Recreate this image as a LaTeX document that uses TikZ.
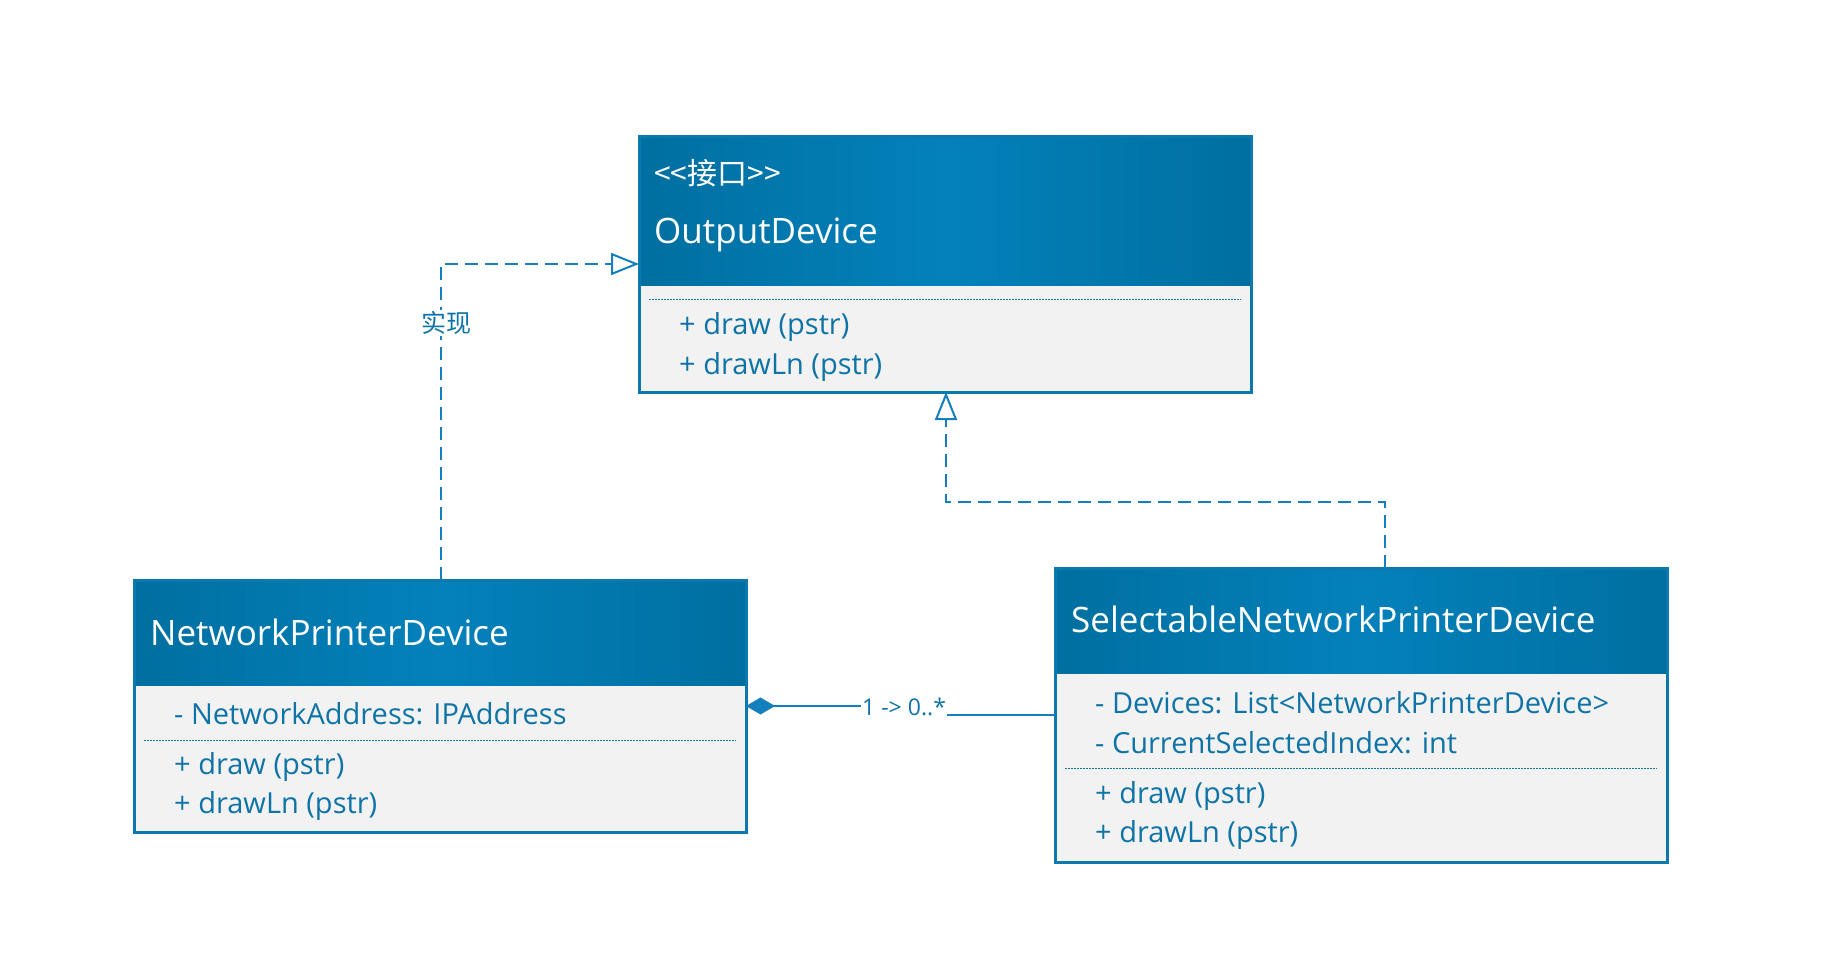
\documentclass[tikz,border=0pt]{standalone}
\usepackage{fontspec}
\setmainfont{Open Sans}
\newfontfamily\cjk{Noto Sans CJK SC}
\usetikzlibrary{arrows.meta}
\definecolor{hdark}{HTML}{006FA0}
\definecolor{hlight}{HTML}{0381BB}
\definecolor{bodyfill}{HTML}{F2F2F2}
\definecolor{bordercol}{HTML}{0B78AE}
\definecolor{txtblue}{HTML}{0E73A6}
\definecolor{linkcol}{HTML}{137FBD}
\tikzset{
  boxnode/.style={rectangle, inner sep=0pt, outer sep=0pt, fill=bodyfill, anchor=north west},
  boxborder/.style={draw=bordercol, line width=3pt},
  titletxt/.style={anchor=base west, inner sep=0pt, text=white, font=\fontsize{35}{40}\selectfont},
  stereotxt/.style={anchor=west, inner sep=0pt, text=white, font=\cjk\fontsize{30}{34}\selectfont},
  membertxt/.style={anchor=base west, inner sep=0pt, text=txtblue, font=\fontsize{29}{34}\selectfont},
  sepline/.style={draw=txtblue, line width=1pt, dash pattern=on 2pt off 1pt},
  realize/.style={draw=linkcol, line width=2pt, dash pattern=on 13pt off 7pt, -{Triangle[open, length=28pt, width=22pt, line width=2pt]}},
  compose/.style={draw=linkcol, line width=2pt, {Diamond[length=29pt, width=17pt, fill=linkcol]}-},
  linklabel/.style={inner sep=1pt, fill=white, text=txtblue},
}
\begin{document}
\begin{tikzpicture}[x=1pt, y=-1pt]
\useasboundingbox (0,0) rectangle (1821,971);
\fill[white] (0,0) rectangle (1821,971);

% ---------- OutputDevice ----------
\node[boxnode, minimum width=612pt, minimum height=255pt] (od) at (639,137) {};
\coordinate (odh) at (639,285);
\shade[left color=hdark, right color=hdark, middle color=hlight] (od.north west) rectangle (odh -| od.east);
\draw[boxborder] (od.north west) rectangle (od.south east);
\node[stereotxt] (odst) at (654,173) {<<接口>>};
\node[titletxt] (odt) at (654,243) {OutputDevice};
\coordinate (ods1) at (649,299);
\draw[sepline] (ods1) -- (ods1 -| 1241,0);
\node[membertxt] (odm1) at (679,334) {+ draw (pstr)};
\node[membertxt] (odm2) at (679,374) {+ drawLn (pstr)};

% ---------- NetworkPrinterDevice ----------
\node[boxnode, minimum width=612pt, minimum height=252pt] (npd) at (134,580) {};
\coordinate (npdh) at (134,685);
\shade[left color=hdark, right color=hdark, middle color=hlight] (npd.north west) rectangle (npdh -| npd.east);
\draw[boxborder] (npd.north west) rectangle (npd.south east);
\node[titletxt] (npdt) at (150,645) {NetworkPrinterDevice};
\node[membertxt] (npda1) at (174,724) {- NetworkAddress: IPAddress};
\coordinate (npds1) at (144,740);
\draw[sepline] (npds1) -- (npds1 -| 736,0);
\node[membertxt] (npdm1) at (174,774) {+ draw (pstr)};
\node[membertxt] (npdm2) at (174,813) {+ drawLn (pstr)};

% ---------- SelectableNetworkPrinterDevice ----------
\node[boxnode, minimum width=612pt, minimum height=294pt] (snpd) at (1055,568) {};
\coordinate (snpdh) at (1055,673);
\shade[left color=hdark, right color=hdark, middle color=hlight] (snpd.north west) rectangle (snpdh -| snpd.east);
\draw[boxborder] (snpd.north west) rectangle (snpd.south east);
\node[titletxt] (snpdt) at (1071,632) {SelectableNetworkPrinterDevice};
\node[membertxt] (snpda1) at (1095,713) {- Devices: List<NetworkPrinterDevice>};
\node[membertxt] (snpda2) at (1095,753) {- CurrentSelectedIndex: int};
\coordinate (snpds1) at (1065,768);
\draw[sepline] (snpds1) -- (snpds1 -| 1657,0);
\node[membertxt] (snpdm1) at (1095,803) {+ draw (pstr)};
\node[membertxt] (snpdm2) at (1095,842) {+ drawLn (pstr)};

% ---------- connectors ----------
\coordinate (b1) at (441,264);
\draw[realize] (npd.north -| b1) -- (b1) -- (b1 -| od.west);
\node[linklabel, font=\cjk\fontsize{25}{30}\selectfont] (lab1) at (446,323) {实现};

\coordinate (b2) at (1385,502);
\coordinate (b3) at (946,502);
\draw[realize] (snpd.north -| b2) -- (b2) -- (b3) -- (b3 |- od.south);

\coordinate (c2) at (905,715);
\draw[compose] (npd.east) -- (npd.east -| c2) -- (c2) -- (c2 -| snpd.west);
\node[linklabel, anchor=west, font=\fontsize{23}{28}\selectfont] (mult) at (861,707) {1 -> 0..*};
\end{tikzpicture}
\end{document}
